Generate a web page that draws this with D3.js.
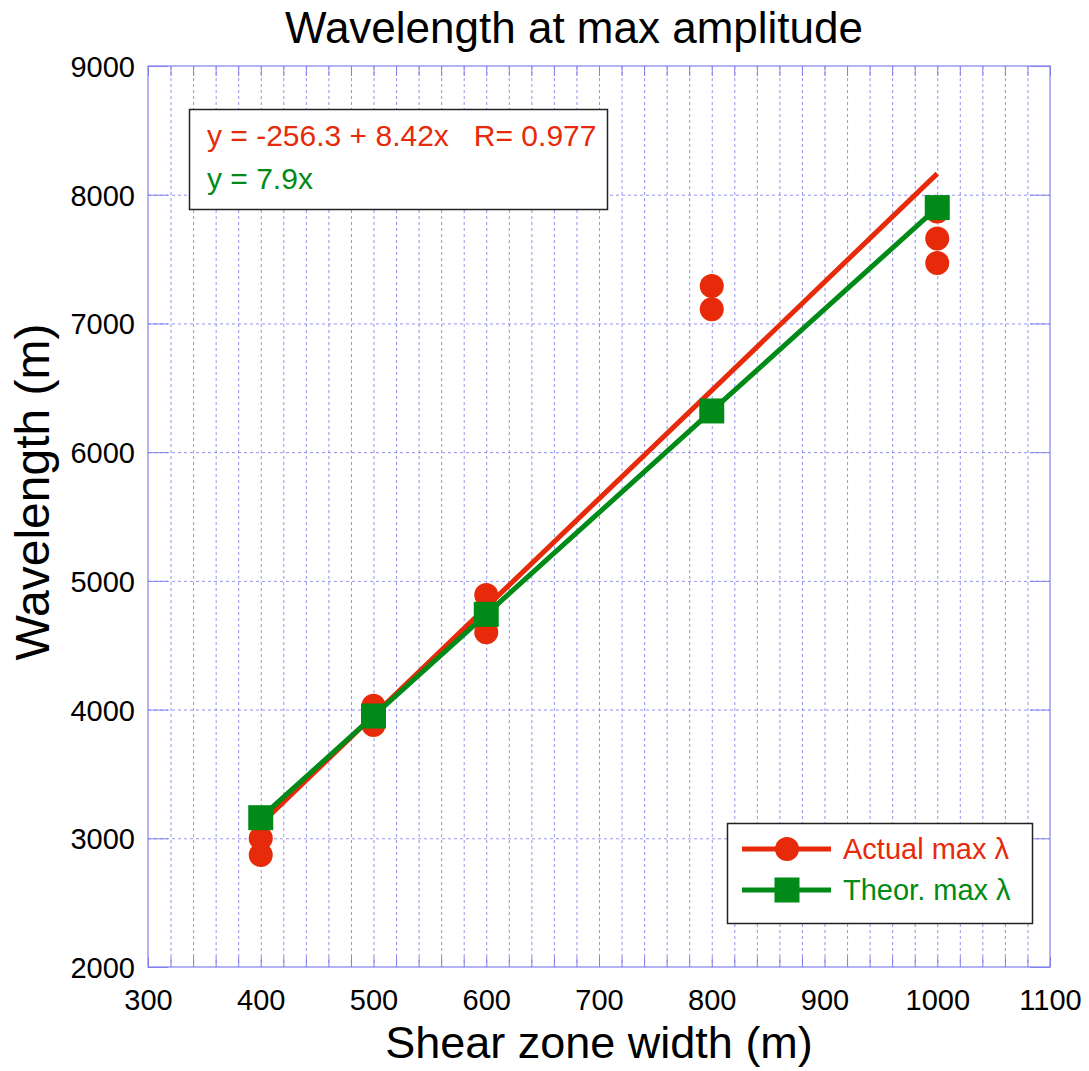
<!DOCTYPE html>
<html>
<head>
<meta charset="utf-8">
<script src="https://cdn.jsdelivr.net/npm/d3@7"></script>
<style>
  body { margin: 0; background: #fff; }
  svg { display: block; font-family: "Liberation Sans", Arial, sans-serif; }
</style>
</head>
<body>
<div id="chart"></div>
<script>
// measured points (red circles)
const actualX = [400, 400, 500, 500, 600, 600, 800, 800, 1000, 1000, 1000];
const actualY = [2870, 3000, 4030, 3880, 4890, 4600, 7290, 7110, 7870, 7660, 7470];
// theoretical max (green squares)
const theorX = [400, 500, 600, 800, 1000];
const theorY = [3160, 3950, 4740, 6320, 7900];
// linear fit of the actual values
const fitIntercept = -256.3;
const fitSlope = 8.42;
const fitRange = [400, 1000];
const xTicks = [300, 400, 500, 600, 700, 800, 900, 1000, 1100];
const yTicks = [2000, 3000, 4000, 5000, 6000, 7000, 8000, 9000];

const W = 1089, H = 1071;
const margin = { top: 66, right: 39, bottom: 104, left: 148 };
const red = "#e62a0a", green = "#008a17", grid = "#8080ee";

const svg = d3.select("#chart").append("svg")
    .attr("width", W)
    .attr("height", H);

const x = d3.scaleLinear([300, 1100], [margin.left, W - margin.right]);
const y = d3.scaleLinear([2000, 9000], [H - margin.bottom, margin.top]);

const minorX = d3.range(300, 1101, 20);

// dotted grid
svg.append("g")
    .attr("stroke", grid)
    .attr("stroke-opacity", 0.85)
    .attr("stroke-width", 1)
    .attr("stroke-dasharray", "3,3")
    .selectAll("line")
    .data(minorX.slice(1, -1))
    .join("line")
    .attr("x1", d => x(d) + 0.5).attr("x2", d => x(d) + 0.5)
    .attr("y1", y(9000)).attr("y2", y(2000));

svg.append("g")
    .attr("stroke", grid)
    .attr("stroke-opacity", 0.85)
    .attr("stroke-width", 1)
    .attr("stroke-dasharray", "3,3")
    .selectAll("line")
    .data(yTicks.slice(1, -1))
    .join("line")
    .attr("x1", x(300)).attr("x2", x(1100))
    .attr("y1", d => y(d) + 0.5).attr("y2", d => y(d) + 0.5);

// inward ticks on all four sides
function styleTicks(g) {
  g.select(".domain").remove();
  g.selectAll(".tick line").attr("stroke", grid).attr("stroke-width", 1);
}
svg.append("g")
    .attr("transform", `translate(0,${y(2000)})`)
    .call(d3.axisBottom(x).tickValues(minorX).tickSize(-10).tickFormat(""))
    .call(styleTicks);
svg.append("g")
    .attr("transform", `translate(0,${y(9000)})`)
    .call(d3.axisTop(x).tickValues(minorX).tickSize(-10).tickFormat(""))
    .call(styleTicks);
svg.append("g")
    .attr("transform", `translate(${x(300)},0)`)
    .call(d3.axisLeft(y).tickValues(yTicks).tickSize(-20).tickFormat(""))
    .call(styleTicks);
svg.append("g")
    .attr("transform", `translate(${x(1100)},0)`)
    .call(d3.axisRight(y).tickValues(yTicks).tickSize(-20).tickFormat(""))
    .call(styleTicks);

// frame
svg.append("rect")
    .attr("x", x(300)).attr("y", y(9000))
    .attr("width", x(1100) - x(300)).attr("height", y(2000) - y(9000))
    .attr("fill", "none").attr("stroke", grid).attr("stroke-width", 1.2);

// tick labels
const xLab = svg.append("g")
    .attr("transform", `translate(0,${y(2000)})`)
    .call(d3.axisBottom(x).tickValues(xTicks).tickSize(0).tickPadding(0).tickFormat(d3.format("d")));
xLab.select(".domain").remove();
xLab.selectAll("text")
    .attr("y", 43).attr("dy", null)
    .attr("fill", "#000")
    .style("font-size", "29px")
    .style("font-family", "Liberation Sans, Arial, sans-serif");

const yLab = svg.append("g")
    .attr("transform", `translate(${x(300)},0)`)
    .call(d3.axisLeft(y).tickValues(yTicks).tickSize(0).tickPadding(0).tickFormat(d3.format("d")));
yLab.select(".domain").remove();
yLab.selectAll("text")
    .attr("x", -13).attr("dy", "0.36em")
    .attr("fill", "#000")
    .style("font-size", "29px")
    .style("font-family", "Liberation Sans, Arial, sans-serif");

// actual points
svg.append("g")
    .attr("fill", red)
    .selectAll("circle")
    .data(actualX.map((d, i) => [d, actualY[i]]))
    .join("circle")
    .attr("cx", d => x(d[0]))
    .attr("cy", d => y(d[1]))
    .attr("r", 12);

// fit line
svg.append("path")
    .datum(fitRange.map(v => [v, fitIntercept + fitSlope * v]))
    .attr("fill", "none")
    .attr("stroke", red)
    .attr("stroke-width", 5)
    .attr("d", d3.line().x(d => x(d[0])).y(d => y(d[1])));

// theoretical line + squares
const theor = theorX.map((d, i) => [d, theorY[i]]);
svg.append("path")
    .datum(theor)
    .attr("fill", "none")
    .attr("stroke", green)
    .attr("stroke-width", 5)
    .attr("d", d3.line().x(d => x(d[0])).y(d => y(d[1])));

svg.append("g")
    .attr("fill", green)
    .selectAll("rect")
    .data(theor)
    .join("rect")
    .attr("x", d => x(d[0]) - 12.5)
    .attr("y", d => y(d[1]) - 12.5)
    .attr("width", 25)
    .attr("height", 25);

// fit equation box
const eq = svg.append("g");
eq.append("rect")
    .attr("x", 189.5).attr("y", 109.5)
    .attr("width", 418).attr("height", 100)
    .attr("fill", "#fff").attr("stroke", "#222").attr("stroke-width", 1.5);
eq.append("text")
    .attr("x", 207).attr("y", 146)
    .attr("fill", red)
    .style("font-size", "30px")
    .style("white-space", "pre")
    .text(`y = ${fitIntercept} + ${fitSlope}x   R= 0.977`);
eq.append("text")
    .attr("x", 207).attr("y", 189)
    .attr("fill", green)
    .style("font-size", "30px")
    .text("y = 7.9x");

// legend
const leg = svg.append("g");
leg.append("rect")
    .attr("x", 727.5).attr("y", 823.5)
    .attr("width", 305).attr("height", 100)
    .attr("fill", "#fff").attr("stroke", "#222").attr("stroke-width", 1.5);
const items = [
  { label: "Actual max λ", color: red, shape: "circle", cy: 849 },
  { label: "Theor. max λ", color: green, shape: "square", cy: 890 }
];
items.forEach(it => {
  leg.append("line")
      .attr("x1", 742).attr("x2", 831)
      .attr("y1", it.cy).attr("y2", it.cy)
      .attr("stroke", it.color).attr("stroke-width", 5);
  if (it.shape === "circle") {
    leg.append("circle").attr("cx", 787).attr("cy", it.cy).attr("r", 12).attr("fill", it.color);
  } else {
    leg.append("rect").attr("x", 774.5).attr("y", it.cy - 12.5)
        .attr("width", 25).attr("height", 25).attr("fill", it.color);
  }
  leg.append("text")
      .attr("x", 843).attr("y", it.cy + 10)
      .attr("fill", it.color)
      .style("font-size", "29px")
      .text(it.label);
});

// titles
svg.append("text")
    .attr("x", 574).attr("y", 43)
    .attr("text-anchor", "middle")
    .style("font-size", "44px")
    .text("Wavelength at max amplitude");

svg.append("text")
    .attr("x", (x(300) + x(1100)) / 2).attr("y", 1058)
    .attr("text-anchor", "middle")
    .style("font-size", "45px")
    .text("Shear zone width (m)");

svg.append("text")
    .attr("transform", `translate(49,492) rotate(-90)`)
    .attr("text-anchor", "middle")
    .style("font-size", "48px")
    .text("Wavelength (m)");
</script>
</body>
</html>
